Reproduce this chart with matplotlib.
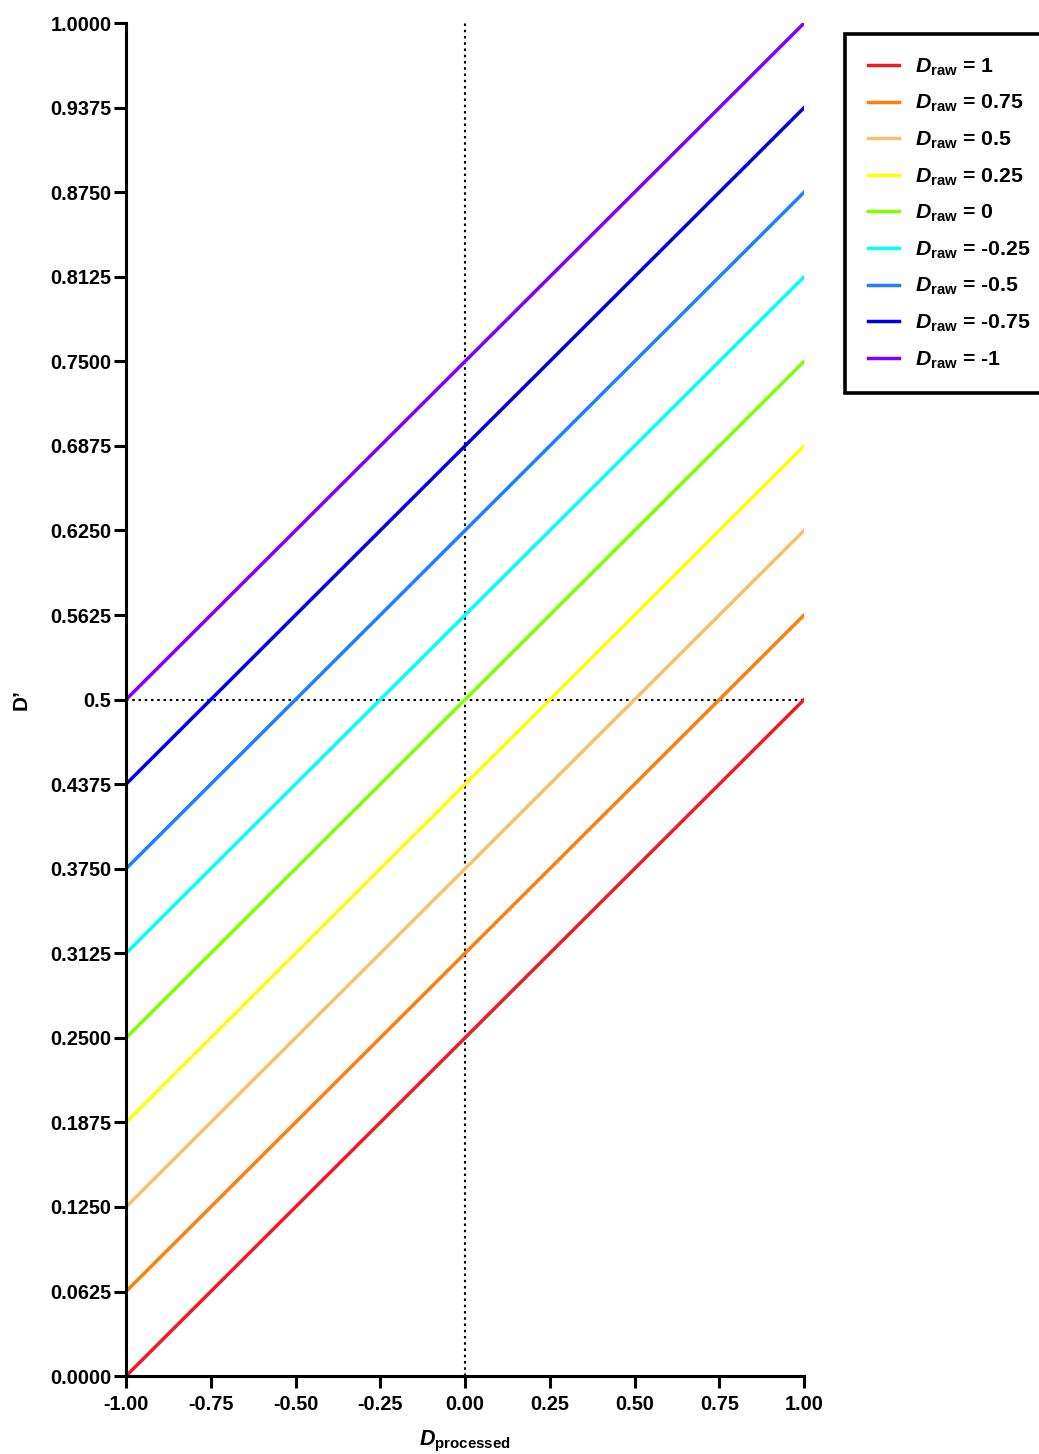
import matplotlib.pyplot as plt

plt.rcParams['font.family'] = ['Liberation Sans', 'DejaVu Sans']
plt.rcParams['font.weight'] = 'bold'
plt.rcParams['mathtext.fontset'] = 'custom'
plt.rcParams['mathtext.it'] = 'Liberation Sans:italic:bold'
plt.rcParams['mathtext.rm'] = 'Liberation Sans:bold'
plt.rcParams['mathtext.bf'] = 'Liberation Sans:bold'

# D_raw values and the two ends of each line
d_raw = ['1', '0.75', '0.5', '0.25', '0', '-0.25', '-0.5', '-0.75', '-1']
x_ends = [-1.0, 1.0]
y_start = [0.0, 0.0625, 0.125, 0.1875, 0.25, 0.3125, 0.375, 0.4375, 0.5]
y_end = [0.5, 0.5625, 0.625, 0.6875, 0.75, 0.8125, 0.875, 0.9375, 1.0]
colors = ['#ee1c25', '#ff7f0e', '#f8c070', '#ffff00', '#80ff00',
          '#00ffff', '#1f80ff', '#0000e6', '#8000ff']

y_ticks = [0, 0.0625, 0.125, 0.1875, 0.25, 0.3125, 0.375, 0.4375, 0.5,
           0.5625, 0.625, 0.6875, 0.75, 0.8125, 0.875, 0.9375, 1.0]
y_ticklabels = ['0.0000', '0.0625', '0.1250', '0.1875', '0.2500', '0.3125',
                '0.3750', '0.4375', '0.5', '0.5625', '0.6250', '0.6875',
                '0.7500', '0.8125', '0.8750', '0.9375', '1.0000']
x_ticks = [-1.0, -0.75, -0.5, -0.25, 0.0, 0.25, 0.5, 0.75, 1.0]
x_ticklabels = ['-1.00', '-0.75', '-0.50', '-0.25', '0.00', '0.25', '0.50', '0.75', '1.00']

fig = plt.figure(figsize=(10.39, 14.54), dpi=100)
ax = fig.add_axes([0.1213, 0.0536, 0.6526, 0.9305])

# reference lines
ax.plot([0, 0], [0, 1], color='black', linestyle=(0, (1.2, 1.8)), linewidth=1.5, zorder=1)
ax.plot([-1, 1], [0.5, 0.5], color='black', linestyle=(0, (1.2, 1.8)), linewidth=1.5, zorder=1)

for lab, y0, y1, c in zip(d_raw, y_start, y_end, colors):
    ax.plot(x_ends, [y0, y1], color=c, linewidth=2.5,
            label=r'$D_{\mathrm{raw}}$ = ' + lab, zorder=2)

ax.set_xlim(-1, 1)
ax.set_ylim(0, 1)
ax.set_xticks(x_ticks)
ax.set_xticklabels(x_ticklabels)
ax.set_yticks(y_ticks)
ax.set_yticklabels(y_ticklabels)
ax.tick_params(width=2.2, length=8.5, labelsize=14.3, direction='out')
ax.tick_params(axis='x', pad=5)
ax.tick_params(axis='y', pad=2)
for s in ['top', 'right']:
    ax.spines[s].set_visible(False)
for s in ['left', 'bottom']:
    ax.spines[s].set_linewidth(2.2)
for t in ax.get_xticklabels() + ax.get_yticklabels():
    t.set_fontweight('bold')

ax.set_xlabel(r'$D_{\mathrm{processed}}$', fontsize=15.5, labelpad=11)
ax.set_ylabel('D\u2019', fontsize=15, fontweight='bold', labelpad=14)

leg = fig.legend(loc='upper left', bbox_to_anchor=(0.8135, 0.9765),
                 bbox_transform=fig.transFigure, frameon=True, fancybox=False,
                 edgecolor='black', framealpha=1, fontsize=15.3,
                 handlelength=1.5, handletextpad=0.75, labelspacing=0.72,
                 borderpad=1.05, borderaxespad=0)
leg.get_frame().set_linewidth(2.6)
for t in leg.get_texts():
    t.set_fontweight('bold')

fig.savefig('out.png', dpi=100)
